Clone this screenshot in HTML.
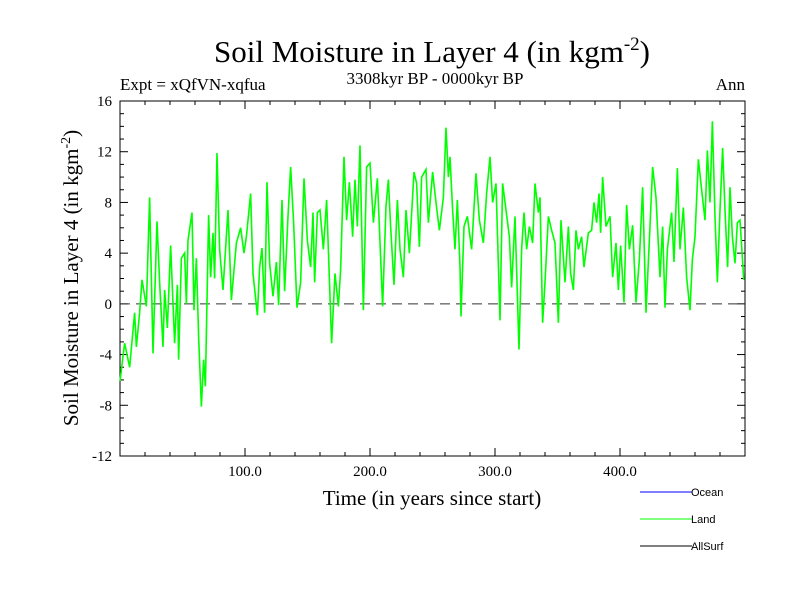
<!DOCTYPE html>
<html><head><meta charset="utf-8"><style>
body{margin:0;background:#fff}
svg text{font-family:"Liberation Serif",serif}
svg text.sans{font-family:"Liberation Sans",sans-serif}
</style></head><body>
<svg id="c" width="800" height="600" xmlns="http://www.w3.org/2000/svg">
<text x="432" y="62" font-size="31" text-anchor="middle">Soil Moisture in Layer 4 (in kgm<tspan dy="-12" font-size="19">-2</tspan><tspan dy="12">)</tspan></text>
<text x="120" y="90" font-size="17">Expt = xQfVN-xqfua</text>
<text x="435" y="84" font-size="17" text-anchor="middle">3308kyr BP - 0000kyr BP</text>
<text x="745" y="90" font-size="17" text-anchor="end">Ann</text>
<text transform="translate(78,278) rotate(-90)" font-size="21" text-anchor="middle">Soil Moisture in Layer 4 (in kgm<tspan dy="-8" font-size="14">-2</tspan><tspan dy="8">)</tspan></text>
<text x="432" y="505" font-size="21" text-anchor="middle">Time (in years since start)</text>
<g font-size="11">
<line x1="640" y1="492" x2="692" y2="492" stroke="#0000ff"/>
<text class="sans" x="691" y="496">Ocean</text>
<line x1="640" y1="519" x2="692" y2="519" stroke="#00ff00"/>
<text class="sans" x="691" y="523">Land</text>
<line x1="640" y1="546" x2="692" y2="546" stroke="#000"/>
<text class="sans" x="691" y="550">AllSurf</text>
</g>
<g id="axes"></g>
<g id="plot"></g>
</svg>
<script>
const years=[0,3.7,7.7,11.7,13.1,15.7,17.6,21.1,23.7,26.4,29.6,31.7,34.4,35.7,37.9,40.5,43.7,45.9,46.9,49.1,51.7,53.1,54.4,57.6,59.2,61.1,62.9,65.1,66.9,68.3,70.9,72.5,74.4,75.7,77.6,79.7,82.4,86.4,89.1,93.1,96.5,99.2,101.1,104.5,106.4,109.9,111.7,113.6,115.7,117.6,119.7,122.4,125.1,126.9,129.6,131.7,134.4,136.5,138.9,141.6,144.5,147.2,149.9,152.5,154.4,155.7,157.9,
160,162.7,165.3,169.3,172,174.7,176.5,179.2,181.3,183.5,186.1,188,189.9,192,194.7,197.3,200,202.7,205.9,210.1,212.8,214.7,216.5,219.2,221.9,224,226.7,228.8,231.5,235.2,237.3,239.5,241.3,244.8,246.7,250.1,252.8,255.5,258.7,260.8,262.7,264,266.1,268,269.9,272,272.8,275.2,277.9,281.3,284.8,287.5,290.7,293.3,296,298.1,300.8,304,306.1,308.8,311.5,313.3,316,319.2,321.3,323.2,325.3,327.5,
330.1,332,334.7,336,338.1,340,342.7,345.3,348,350.7,352.8,356,358.7,360.5,362.7,364.8,366.7,369.3,371.2,374.7,377.3,379.2,381.3,383.2,384.5,386.1,388.8,392,394.1,396.8,398.7,400.5,403.2,405.3,407.5,410.1,412.8,415.5,418.1,420.8,424,426.1,428.8,432,434.1,436,437.9,441.3,443.2,445.9,448,450.7,453.3,456,457.9,460,462.7,465.3,468,469.9,472,473.9,476,477.9,480,482.1,484,486.1,488,489.9,492,493.9,496,499];
const land=[-6.1,-3.1,-5,-0.7,-3.4,-0.7,1.9,-0.2,8.4,-3.9,6.5,1.7,-3.4,1.1,-1.9,4.6,-3.1,1.5,-4.4,3.6,4,0,5,7.2,-0.5,3.6,-2.6,-8.1,-4.4,-6.5,7,2.1,5.6,2,11.9,4.3,1.1,7.4,0.3,4.8,6,4,5.3,8.7,2.4,-0.9,2.9,4.4,-0.7,9.6,3.2,0.6,3.3,-0.1,8.2,1,6.9,10.8,6.4,-0.3,1.7,9.9,5,2.9,7.2,1.7,7.2,
7.4,4.3,8.2,-3.1,2.4,-0.2,2.7,11.6,6.6,9.6,5.3,9.8,6.1,12.5,-0.5,10.8,11.1,6.4,9.9,-0.2,7.7,9.8,6.1,1.5,8.2,4.3,2.1,7.4,4,10.4,9.5,4.5,10,10.6,6.4,10.4,8,5.8,8.4,13.9,10,11.6,7.4,4.3,8.2,2.9,-1,6.1,6.9,4.3,10.3,6.6,4.8,8.7,11.6,8,9.5,-1.3,9.5,7.4,5.3,1.3,6.9,-3.6,4.3,7.2,4.3,6.1,
4.8,9.5,7.2,8.4,-1.5,1.7,6.9,5.8,4.8,-1.5,6.6,1.7,6.1,2.4,1.1,5.8,4.3,5.3,2.9,5.6,5.8,8,6.4,8.7,5.6,10,6.1,6.9,2.1,4.8,1.1,4.6,0.1,7.8,4.3,6.2,0.1,3.5,9.2,-0.7,6.1,10.8,8.4,2.1,6.1,-0.3,4.3,7.2,3.3,10.7,4.3,7.6,2.1,-0.5,3.5,5.3,11.4,9,6.6,12.1,8,14.4,6.9,1.7,7.4,12.3,7.4,2.9,9.2,5.3,3.2,6.4,6.6,1.9];
const yTicks=[-12,-8,-4,0,4,8,12,16];
const xTicks=[100,200,300,400];
const X0=120,X1=745,Y0=456,Y1=101;
function xs(v){return X0+(v-0)/(500-0)*(X1-X0);}
function ys(v){return Y0-(v+12)/28*(Y0-Y1);}
const NS="http://www.w3.org/2000/svg";
const ax=document.getElementById('axes'),pl=document.getElementById('plot');
function mk(tag,attrs,parent){const e=document.createElementNS(NS,tag);for(const k in attrs)e.setAttribute(k,attrs[k]);parent.appendChild(e);return e;}
const frame=mk('rect',{x:X0,y:Y1,width:X1-X0,height:Y0-Y1,fill:'none',stroke:'#000','stroke-width':1},ax);


for(let v=-12;v<=16;v++){const major=(v%4===0);const L=major?8:4;const y=ys(v);
mk('line',{x1:X0,y1:y,x2:X0+L,y2:y,stroke:'#000'},ax);mk('line',{x1:X1,y1:y,x2:X1-L,y2:y,stroke:'#000'},ax);}
yTicks.forEach(v=>{const t=mk('text',{x:X0-8,y:ys(v)+5,'font-size':15,'text-anchor':'end'},ax);t.textContent=v;

});
for(let v=0;v<=500;v+=20){const major=(v%100===0);const L=major?8:4;const x=xs(v);
mk('line',{x1:x,y1:Y0,x2:x,y2:Y0-L,stroke:'#000'},ax);mk('line',{x1:x,y1:Y1,x2:x,y2:Y1+L,stroke:'#000'},ax);}
xTicks.forEach(v=>{const t=mk('text',{x:xs(v),y:Y0+20,'font-size':15,'text-anchor':'middle'},ax);t.textContent=v.toFixed(1);

});
const zl=mk('line',{x1:X0,y1:ys(0),x2:X1,y2:ys(0),stroke:'#333','stroke-dasharray':'10,6'},pl);


const ln=mk('polyline',{points:years.map((y,i)=>xs(y)+','+ys(land[i])).join(' '),fill:'none',stroke:'#00ff00','stroke-width':1.6},pl);


</script>
</body></html>
